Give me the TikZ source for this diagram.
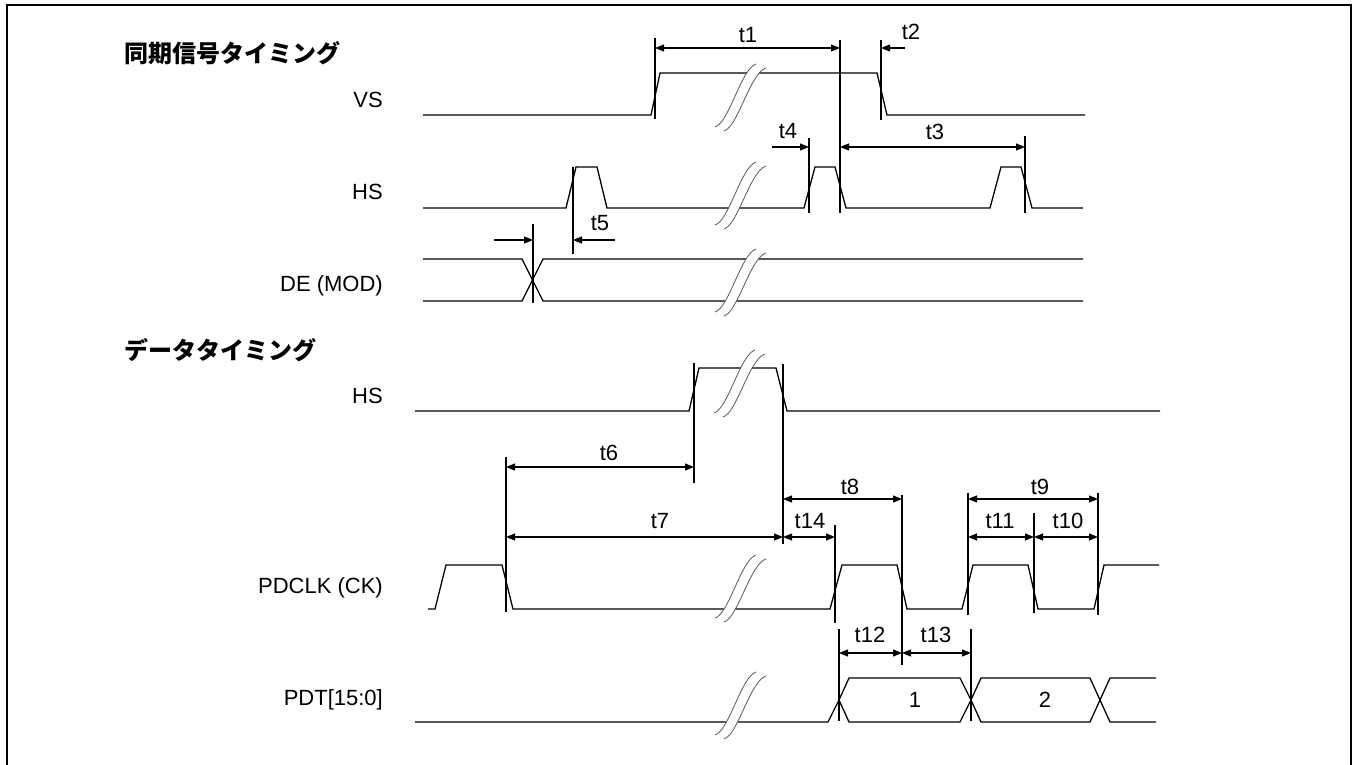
\documentclass[tikz,border=0pt]{standalone}
\usepackage{fontspec}
\setmainfont{Liberation Sans}
\newfontfamily\cjk{Noto Sans CJK JP}
\usetikzlibrary{arrows.meta}
\begin{document}
\begin{tikzpicture}[x=1pt,y=-1pt,
  sig/.style={line width=1.3pt},
  vl/.style={line width=1.1pt},
  dim/.style={line width=1.1pt,{Triangle[length=9pt,width=7pt]}-{Triangle[length=9pt,width=7pt]}},
  arr/.style={line width=1.1pt,-{Triangle[length=9pt,width=7pt]}},
  lbl/.style={font=\fontsize{22}{25}\selectfont, anchor=east, inner sep=0pt},
  tl/.style={font=\fontsize{22}{25}\selectfont, inner sep=0pt},
  ttl/.style={font=\cjk\bfseries\fontsize{24}{27}\selectfont, anchor=west, inner sep=0pt},
  brkc/.style={draw=gray!70!black, line width=0.8pt},
  brk/.pic={
    \fill[white] (0,0) .. controls (14,-4) and (26,-58) .. (41,-63) -- (51,-59) .. controls (35,-54) and (23,0) .. (9,4) -- cycle;
    \draw[brkc] (0,0) .. controls (14,-4) and (26,-58) .. (41,-63);
    \draw[brkc] (9,4) .. controls (23,0) and (35,-54) .. (51,-59);
  }]
\useasboundingbox (0,0) rectangle (1353,765);
\draw[line width=2.5pt] (7,5) rectangle (1351,775);

% titles and signal names
\node[ttl] (title1) at (124,53) {同期信号タイミング};
\node[ttl] (title2) at (124,350) {データタイミング};
\node[lbl] (nVS) at (383,100) {VS};
\node[lbl] (nHS1) at (383,192) {HS};
\node[lbl] (nDE) at (383,286) {DE (MOD)};
\node[lbl] (nHS2) at (383,396) {HS};
\node[lbl] (nCK) at (383,588) {PDCLK (CK)};
\node[lbl] (nPDT) at (383,700) {PDT[15:0]};

% waveforms
\draw[sig] (423,115) -- (651,115) -- (660,73) -- (877,73) -- (887,115) -- (1085,115);
\draw[sig] (423,208) -- (566,208) -- (576,167) -- (597,167) -- (607,208) -- (804,208) -- (815,167) -- (835,167) -- (846,208) -- (990,208) -- (1001,167) -- (1021,167) -- (1032,208) -- (1083,208);
\draw[sig] (423,259) -- (522,259) -- (543,301) -- (1083,301);
\draw[sig] (423,301) -- (522,301) -- (543,259) -- (1083,259);
\draw[sig] (415,411) -- (689,411) -- (699,368) -- (776,368) -- (787,411) -- (1160,411);
\draw[sig] (428,609) -- (435,609) -- (446,565) -- (502,565) -- (513,609) -- (830,609) -- (842,565) -- (897,565) -- (907,609) -- (962,609) -- (973,565) -- (1028,565) -- (1038,609) -- (1094,609) -- (1104,565) -- (1159,565);
\draw[sig] (415,722) -- (828,722) -- (839,700) -- (849,678) -- (960,678) -- (971,700) -- (981,678) -- (1090,678) -- (1100,700) -- (1110,678) -- (1156,678);
\draw[sig] (839,700) -- (849,722) -- (960,722) -- (971,700) -- (981,722) -- (1090,722) -- (1100,700) -- (1110,722) -- (1156,722);
\node[tl] (d1) at (915,700) {1};
\node[tl] (d2) at (1045,700) {2};

% break marks
\pic at (715,127) {brk};
\pic at (715,225) {brk};
\pic at (715,312) {brk};
\pic at (714,413) {brk};
\pic at (715,618) {brk};
\pic at (715,735) {brk};

% reference lines
\coordinate (v1a) at (655,38);  \coordinate (v1b) at (655,119);
\coordinate (v2a) at (881,40);  \coordinate (v2b) at (881,120);
\coordinate (v3a) at (840,40);  \coordinate (v3b) at (840,213);
\coordinate (v4a) at (809,138); \coordinate (v4b) at (809,213);
\coordinate (v5a) at (1025,136); \coordinate (v5b) at (1025,213);
\coordinate (v6a) at (573,167); \coordinate (v6b) at (573,254);
\coordinate (v7a) at (533,224); \coordinate (v7b) at (533,303);
\coordinate (v8a) at (694,363); \coordinate (v8b) at (694,483);
\coordinate (v9a) at (783,364); \coordinate (v9b) at (783,544);
\coordinate (v10a) at (506,457); \coordinate (v10b) at (506,612);
\coordinate (v11a) at (835,525); \coordinate (v11b) at (835,623);
\coordinate (v12a) at (902,495); \coordinate (v12b) at (902,665);
\coordinate (v13a) at (968,493); \coordinate (v13b) at (968,615);
\coordinate (v14a) at (1034,513); \coordinate (v14b) at (1034,613);
\coordinate (v15a) at (1098,493); \coordinate (v15b) at (1098,615);
\coordinate (v16a) at (839,629); \coordinate (v16b) at (839,721);
\coordinate (v17a) at (971,629); \coordinate (v17b) at (971,721);
\foreach \v in {1,...,17} {\draw[vl] (v\v a) -- (v\v b);}

% dimension arrows
\coordinate (t1l) at (655,48); \coordinate (t1r) at (840,48);
\coordinate (t2s) at (905,48); \coordinate (t2e) at (881,48);
\coordinate (t4s) at (772,147); \coordinate (t4e) at (809,147);
\coordinate (t3l) at (840,147); \coordinate (t3r) at (1025,147);
\coordinate (t5as) at (494,240); \coordinate (t5ae) at (533,240);
\coordinate (t5bs) at (615,240); \coordinate (t5be) at (573,240);
\coordinate (t6l) at (506,467); \coordinate (t6r) at (694,467);
\coordinate (t7l) at (506,537); \coordinate (t7r) at (783,537);
\coordinate (t14r) at (835,537);
\coordinate (t8l) at (783,499); \coordinate (t8r) at (902,499);
\coordinate (t9l) at (968,499); \coordinate (t9r) at (1098,499);
\coordinate (t11l) at (968,537); \coordinate (t11r) at (1034,537);
\coordinate (t10r) at (1098,537);
\coordinate (t12l) at (839,653); \coordinate (t12r) at (902,653);
\coordinate (t13r) at (971,653);

\draw[dim] (t1l) -- (t1r);
\draw[arr] (t2s) -- (t2e);
\draw[arr] (t4s) -- (t4e);
\draw[dim] (t3l) -- (t3r);
\draw[arr] (t5as) -- (t5ae);
\draw[arr] (t5bs) -- (t5be);
\draw[dim] (t6l) -- (t6r);
\draw[dim] (t7l) -- (t7r);
\draw[dim] (t7r) -- (t14r);
\draw[dim] (t8l) -- (t8r);
\draw[dim] (t9l) -- (t9r);
\draw[dim] (t11l) -- (t11r);
\draw[dim] (t11r) -- (t10r);
\draw[dim] (t12l) -- (t12r);
\draw[dim] (t12r) -- (t13r);

% timing labels
\node[tl] (L1) at (748,35) {t1};
\node[tl] (L2) at (911,32) {t2};
\node[tl] (L3) at (935,132) {t3};
\node[tl] (L4) at (788,131) {t4};
\node[tl] (L5) at (600,223) {t5};
\node[tl] (L6) at (609,453) {t6};
\node[tl] (L7) at (660,521) {t7};
\node[tl] (L8) at (850,487) {t8};
\node[tl] (L9) at (1040,487) {t9};
\node[tl] (L10) at (1068,521) {t10};
\node[tl] (L11) at (1000,521) {t11};
\node[tl] (L12) at (870,635) {t12};
\node[tl] (L13) at (936,635) {t13};
\node[tl] (L14) at (810,521) {t14};
\end{tikzpicture}
\end{document}
